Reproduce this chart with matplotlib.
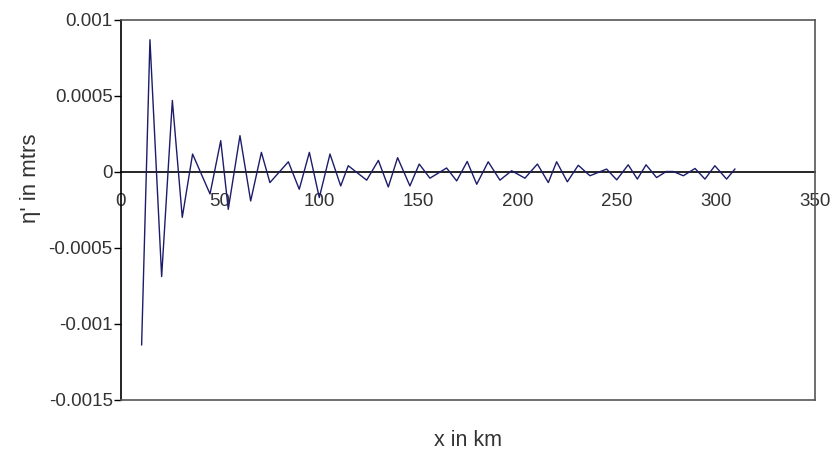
import matplotlib
matplotlib.use("Agg")
import matplotlib.pyplot as plt

plt.rcParams["font.family"] = ["Liberation Sans", "DejaVu Sans"]

# peaks / troughs (x in km, eta' in metres)
x_km = [10.4, 14.6, 20.5, 25.9, 30.9, 36.1, 44.9, 50.3, 54.1, 60.0,
        65.4, 70.8, 75.1, 84.4, 89.9, 95.0, 100.0, 105.4, 110.8, 114.6,
        123.9, 129.8, 134.8, 139.5, 145.7, 150.4, 155.8, 164.2, 169.3, 174.6,
        179.4, 185.2, 191.1, 197.0, 203.7, 210.0, 215.5, 219.7, 225.1, 230.6,
        236.5, 244.9, 250.0, 255.8, 260.4, 264.8, 270.1, 275.0, 278.5, 283.6,
        289.5, 294.5, 299.5, 305.4, 309.6]
eta = [-0.00114, 0.00087, -0.00069, 0.00047, -0.00030, 0.000117, -0.000146, 0.000205, -0.000247, 0.000238,
       -0.000192, 0.000128, -0.000071, 0.000066, -0.000115, 0.000128, -0.00017, 0.000117, -0.000093, 0.00004,
       -0.000055, 0.000075, -0.0001, 0.000093, -0.000093, 0.000051, -0.000042, 0.000025, -0.00006, 0.000068,
       -0.000082, 0.000066, -0.000055, 0.000007, -0.000042, 0.000051, -0.000071, 0.000066, -0.000066, 0.000043,
       -0.000026, 0.000018, -0.000053, 0.000046, -0.000048, 0.000046, -0.000038, 0.000002, 0.000002, -0.000026,
       0.000022, -0.000048, 0.00004, -0.000048, 0.000018]

x_ticks = [0, 50, 100, 150, 200, 250, 300, 350]
y_ticks = [-0.0015, -0.001, -0.0005, 0, 0.0005, 0.001]
y_tick_labels = ["-0.0015", "-0.001", "-0.0005", "0", "0.0005", "0.001"]

text_color = "#333333"

fig = plt.figure(figsize=(8.35, 4.54), dpi=100)
ax = fig.add_axes([121 / 835, 1 - 399.5 / 454, (815 - 121) / 835, (399.5 - 20) / 454])

ax.plot(x_km, eta, color="#1c1c6a", lw=1.0, zorder=3)

ax.set_xlim(0, 350)
ax.set_ylim(-0.0015, 0.001)

ax.set_yticks(y_ticks)
ax.set_yticklabels(y_tick_labels)
ax.tick_params(axis="y", direction="out", length=5, width=1, color="black",
               labelsize=13.5, labelcolor=text_color, pad=1)

# main x axis: frame only
ax.set_xticks([])
for side in ["top", "right", "bottom"]:
    ax.spines[side].set_color("#555555")
    ax.spines[side].set_linewidth(1.2)
ax.spines["left"].set_color("black")
ax.spines["left"].set_linewidth(1.2)

# x axis crossing at y = 0
zero_frac = (0 - (-0.0015)) / (0.001 - (-0.0015))
sec = ax.secondary_xaxis(zero_frac)
sec.xaxis.set_ticks_position("bottom")
sec.set_xticks(x_ticks)
sec.spines["top"].set_visible(False)
sec.spines["bottom"].set_visible(True)
sec.spines["bottom"].set_color("black")
sec.spines["bottom"].set_linewidth(1.2)
sec.tick_params(axis="x", which="both", bottom=True, top=False, labelbottom=True, labeltop=False,
                length=0, pad=15, labelsize=13.5, labelcolor=text_color)

ax.set_ylabel("η' in mtrs", fontsize=16, color=text_color)
ax.yaxis.set_label_coords(-0.115, 0.584)
ax.set_xlabel("x in km", fontsize=15.5, color=text_color, labelpad=22)

fig.savefig("out.png", dpi=100)
